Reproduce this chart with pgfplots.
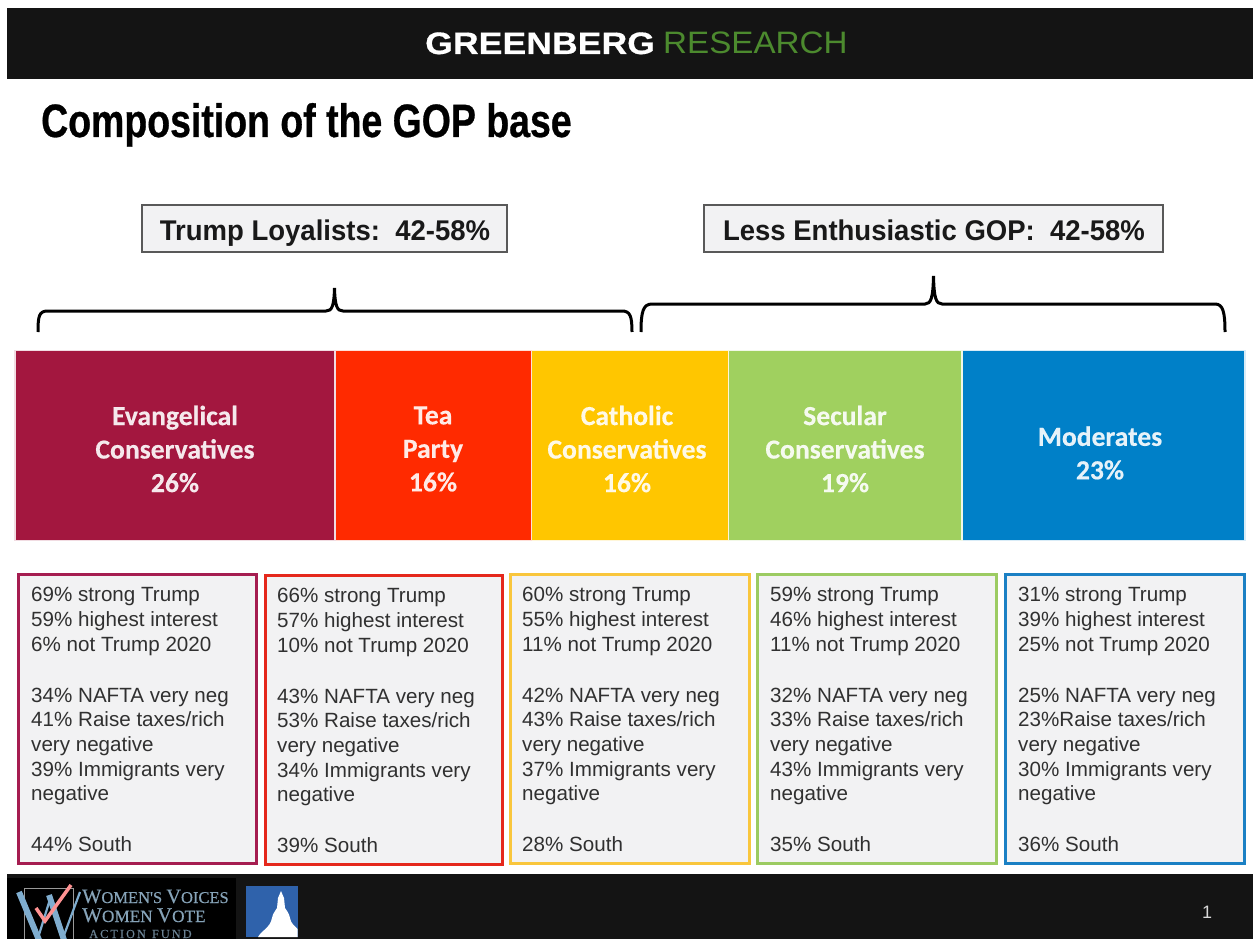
\documentclass[border=0pt]{standalone}
\usepackage{fontspec}
\usepackage{pgfplots}
\pgfplotsset{compat=1.18}
\setmainfont{Liberation Sans}
\newfontfamily\narrowbold[FakeStretch=0.80,FakeBold=0.6]{Liberation Sans Bold}
\newfontfamily\gbfont[FakeStretch=1.15,FakeBold=0.5]{Liberation Sans Bold}
\newfontfamily\rsfont[FakeStretch=1.07]{Liberation Sans}
\newfontfamily\carl[FakeBold=0.3]{Carlito}
\newfontfamily\serif[FakeBold=0.3]{Liberation Serif}
\newfontfamily\boxfont[FakeStretch=0.965]{Liberation Sans Bold}
\definecolor{hdr}{HTML}{141414}
\definecolor{cEv}{HTML}{A3173F}
\definecolor{cTea}{HTML}{FF2A00}
\definecolor{cCat}{HTML}{FFC600}
\definecolor{cSec}{HTML}{A0D05F}
\definecolor{cMod}{HTML}{0080C8}
\definecolor{bEv}{HTML}{A51D50}
\definecolor{bTea}{HTML}{E5281C}
\definecolor{bCat}{HTML}{F9C63C}
\definecolor{bSec}{HTML}{9CCB62}
\definecolor{bMod}{HTML}{1B80C4}
\definecolor{boxbg}{HTML}{F2F2F3}
\definecolor{stat}{HTML}{303030}
\definecolor{wv}{HTML}{86A3B8}
\definecolor{wlogo}{HTML}{7FADCF}
\definecolor{rsgreen}{HTML}{4C8A2E}
\definecolor{capblue}{HTML}{2F62AB}
\newcommand\statlines[7]{%
  \node[st] at (\tx,601+\dy) {#1};
  \node[st] at (\tx,626+\dy) {#2};
  \node[st] at (\tx,651+\dy) {#3};
  \node[st] at (\tx,702+\dy) {#4};
  \node[st] at (\tx,726+\dy) {#5};
  \node[st] at (\tx,751+\dy) {very negative};
  \node[st] at (\tx,776+\dy) {#6};
  \node[st] at (\tx,800+\dy) {negative};
  \node[st] at (\tx,851+\dy) {#7};
}
\begin{document}
\begin{tikzpicture}[x=1pt,y=-1pt,
  st/.style={anchor=base west,inner sep=0pt,text=stat,font=\fontsize{20.6}{22}\selectfont},
  band/.style={align=center,text=white,text opacity=0.9,font=\carl\bfseries\fontsize{27.6}{33.5}\selectfont}]
\path[use as bounding box] (0,0) rectangle (1253,939);
\fill[white] (0,0) rectangle (1253,939);
% header
\fill[hdr] (7,8) rectangle (1253,79);
\node[anchor=base west,inner sep=0pt,text=white,font=\gbfont\fontsize{31}{31}\selectfont] at (425,54) {GREENBERG};
\node[anchor=base west,inner sep=0pt,text=rsgreen,font=\rsfont\fontsize{31}{31}\selectfont] at (663,54) {RESEARCH};
% title
\node[anchor=base west,inner sep=0pt,text=black,font=\narrowbold\fontsize{46.8}{47}\selectfont] at (41,137) {Composition of the GOP base};
% label boxes
\draw[fill=boxbg,draw=black!65,line width=1.5] (142,205) rectangle (507,252);
\node[anchor=base,inner sep=0pt,text=black!90,font=\boxfont\fontsize{28.5}{28.5}\selectfont] at (325,240) {Trump Loyalists:\ \ 42-58\%};
\draw[fill=boxbg,draw=black!65,line width=1.5] (704,205) rectangle (1163,252);
\node[anchor=base,inner sep=0pt,text=black!90,font=\boxfont\fontsize{28.5}{28.5}\selectfont] at (934,240) {Less Enthusiastic GOP:\ \ 42-58\%};
% braces
\draw[black,line width=3] (38,332) .. controls (38,316) and (39,311) .. (48,311) -- (326,311)
  .. controls (332,311) and (334,306) .. (334.5,288) .. controls (335,306) and (337,311) .. (343,311)
  -- (622,311) .. controls (630,311) and (632,316) .. (632,332);
\draw[black,line width=3] (641,332) .. controls (641,312) and (643,304) .. (652,304) -- (925,304)
  .. controls (931,304) and (933,298) .. (933.5,276) .. controls (934,298) and (936,304) .. (942,304)
  -- (1215,304) .. controls (1223,304) and (1225,312) .. (1225,332);
% stacked band
\begin{axis}[at={(15pt,-540.5pt)},anchor=south west,scale only axis,width=1230pt,height=190pt,
  xmin=0,xmax=100,ymin=0,ymax=1,hide axis,xbar stacked,bar width=190pt,clip=false]
\addplot[fill=cEv,draw=white!85!cEv,line width=1.5pt] coordinates {(26,0.5)};
\addplot[fill=cTea,draw=white!85!cTea,line width=1.5pt] coordinates {(16,0.5)};
\addplot[fill=cCat,draw=white!85!cCat,line width=1.5pt] coordinates {(16,0.5)};
\addplot[fill=cSec,draw=white!85!cSec,line width=1.5pt] coordinates {(19,0.5)};
\addplot[fill=cMod,draw=white!85!cMod,line width=1.5pt] coordinates {(23,0.5)};
\end{axis}
\node[band] at (175,449) {Evangelical\\Conservatives\\26\%};
\node[band] at (433,449) {Tea\\Party\\16\%};
\node[band] at (627,449) {Catholic\\Conservatives\\16\%};
\node[band] at (845,449) {Secular\\Conservatives\\19\%};
\node[band] at (1100,453) {Moderates\\23\%};
% stat boxes
\draw[fill=boxbg,draw=bEv,line width=3] (18.5,574.5) rectangle (256.5,863.5);
\draw[fill=boxbg,draw=bTea,line width=3] (265.5,575.5) rectangle (502.5,864.5);
\draw[fill=boxbg,draw=bCat,line width=3] (510.5,574.5) rectangle (749.5,863.5);
\draw[fill=boxbg,draw=bSec,line width=3] (757.5,574.5) rectangle (996,863.5);
\draw[fill=boxbg,draw=bMod,line width=3] (1005.5,574.5) rectangle (1244.5,863.5);
\def\tx{31}\def\dy{0}
\statlines{69\% strong Trump}{59\% highest interest}{6\% not Trump 2020}{34\% NAFTA very neg}{41\% Raise taxes/rich}{39\% Immigrants very}{44\% South}
\def\tx{277}\def\dy{1.5}
\statlines{66\% strong Trump}{57\% highest interest}{10\% not Trump 2020}{43\% NAFTA very neg}{53\% Raise taxes/rich}{34\% Immigrants very}{39\% South}
\def\tx{522}\def\dy{0}
\statlines{60\% strong Trump}{55\% highest interest}{11\% not Trump 2020}{42\% NAFTA very neg}{43\% Raise taxes/rich}{37\% Immigrants very}{28\% South}
\def\tx{770}\def\dy{0}
\statlines{59\% strong Trump}{46\% highest interest}{11\% not Trump 2020}{32\% NAFTA very neg}{33\% Raise taxes/rich}{43\% Immigrants very}{35\% South}
\def\tx{1018}\def\dy{0}
\statlines{31\% strong Trump}{39\% highest interest}{25\% not Trump 2020}{25\% NAFTA very neg}{23\%Raise taxes/rich}{30\% Immigrants very}{36\% South}
% footer
\fill[hdr] (7,874) rectangle (1253,939);
\fill[black] (7,878) rectangle (236,939);
\begin{scope}
\clip (0,0) rectangle (1253,939);
\draw[black!40!white,line width=1] (24,888) rectangle (73,945);
\draw[wlogo,line width=6] (19,892) -- (39,940);
\draw[wlogo,line width=2.2] (38,938) -- (51,896);
\draw[wlogo,line width=6] (49,895) -- (64,940);
\draw[wlogo,line width=2.2] (63,938) -- (80,892);
\draw[red!30!pink!90!white,line width=3.5] (36,908) -- (45,921) -- (71,885);
\node[anchor=base west,inner sep=0pt,text=wv,font=\serif\fontsize{20.4}{20}\selectfont] at (82,903) {W\fontsize{16.5}{16}\selectfont OMEN'S \fontsize{20.4}{20}\selectfont V\fontsize{16.5}{16}\selectfont OICES};
\node[anchor=base west,inner sep=0pt,text=wv,font=\serif\fontsize{21}{20}\selectfont] at (82,922) {W\fontsize{17.2}{16}\selectfont OMEN \fontsize{21}{20}\selectfont V\fontsize{17.2}{16}\selectfont OTE};
\node[anchor=base west,inner sep=0pt,text=wv!80!black,font=\serif\fontsize{12.3}{12}\selectfont] at (89,938) {A\,C\,T\,I\,O\,N\ \ F\,U\,N\,D};
\fill[capblue] (246,886) rectangle (298,937);
\fill[white] (258,937) .. controls (262,930) and (270,928) .. (272,918) .. controls (273,912) and (276,911) .. (277,908) -- (278,898) -- (281,891) -- (284,898) -- (285,908)
  .. controls (287,911) and (289,913) .. (290,918) .. controls (291,924) and (295,926) .. (297.5,929) -- (297.5,937) -- cycle;
\end{scope}
\node[text=white!85!black,inner sep=0pt,font=\fontsize{18}{18}\selectfont] at (1207,912) {1};
\end{tikzpicture}
\end{document}
